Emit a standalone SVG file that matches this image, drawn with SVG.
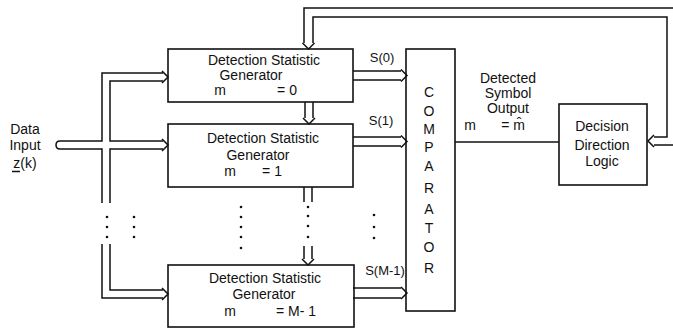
<svg xmlns="http://www.w3.org/2000/svg" width="673" height="331" viewBox="0 0 673 331">
<style>
.box{fill:none;stroke:#111;stroke-width:1.6}
.ln{fill:none;stroke:#111;stroke-width:1.5;stroke-linejoin:miter}
.t{font-family:"Liberation Sans",Arial,sans-serif;font-size:14px;fill:#111;text-anchor:middle}
.s{font-family:"Liberation Sans",Arial,sans-serif;font-size:13px;fill:#111;text-anchor:middle}
.c{font-family:"Liberation Sans",Arial,sans-serif;font-size:14px;fill:#111;text-anchor:middle}
.dot{fill:#111}
</style>
<rect width="673" height="331" fill="#fff"/>

<g id="connectors">
  <!-- input bus -->
  <path class="ln" d="M163,73 L102,73 L102,141 L60,141 Q56,141 56,145 Q56,149 60,149 L102,149 L102,203"/>
  <path class="ln" d="M163,81 L110,81 L110,141 L163,141"/>
  <path class="ln" d="M163,149 L110,149 L110,203"/>
  <path class="ln" d="M102,244 L102,298 L163,298"/>
  <path class="ln" d="M110,244 L110,290 L163,290"/>
  <path class="ln" d="M162,71 L168,77 L162,83"/>
  <path class="ln" d="M162,139 L168,145 L162,151"/>
  <path class="ln" d="M162,288 L168,294 L162,300"/>
  <!-- S outputs -->
  <path class="ln" d="M353,71 L401,71 M353,80 L401,80 M401,69.5 L407,75.5 L401,81.5"/>
  <path class="ln" d="M353,137 L401,137 M353,146 L401,146 M401,135.5 L407,141.5 L401,147.5"/>
  <path class="ln" d="M353,288 L401,288 M353,298 L401,298 M401,287 L407,293 L401,299"/>
  <!-- generator chain -->
  <path class="ln" d="M305,102 L305,118 M313,102 L313,118 M303,118 L309,124 L315,118"/>
  <path class="ln" d="M304,187 L304,202 M312,187 L312,202"/>
  <path class="ln" d="M304,246 L304,259 M312,246 L312,259 M302,259 L308,265 L314,259"/>
  <!-- feedback -->
  <path class="ln" d="M673,8 L304,8 L304,43"/>
  <path class="ln" d="M313,43 L313,17 L667,17 L667,137 L654,137"/>
  <path class="ln" d="M673,145 L654,145"/>
  <path class="ln" d="M302.5,43 L308.5,49 L314.5,43"/>
  <path class="ln" d="M654,135 L648,141 L654,147"/>
  <!-- comparator output -->
  <path class="ln" d="M455,142 L559,142"/>
  <!-- dots -->
  <g class="dot">
    <circle cx="107" cy="217" r="1.3"/><circle cx="107" cy="227" r="1.3"/><circle cx="107" cy="237" r="1.3"/>
    <circle cx="134" cy="217" r="1.3"/><circle cx="134" cy="227" r="1.3"/><circle cx="134" cy="237" r="1.3"/>
    <circle cx="241" cy="207" r="1.3"/><circle cx="241" cy="217" r="1.3"/><circle cx="241" cy="227" r="1.3"/><circle cx="241" cy="237" r="1.3"/><circle cx="241" cy="248" r="1.3"/>
    <circle cx="308" cy="207" r="1.3"/><circle cx="308" cy="216" r="1.3"/><circle cx="308" cy="226" r="1.3"/><circle cx="308" cy="237" r="1.3"/>
    <circle cx="374" cy="215" r="1.3"/><circle cx="374" cy="227" r="1.3"/><circle cx="374" cy="238" r="1.3"/>
  </g>
</g>

<g id="input-label">
  <text class="t" x="25" y="134">Data</text>
  <text class="t" x="25" y="150">Input</text>
  <text class="t" x="25" y="168">z(k)</text>
  <line class="ln" x1="12" y1="171.5" x2="20" y2="171.5" stroke-width="1.2"/>
</g>

<g id="gen0">
  <rect class="box" x="168" y="49" width="185" height="53"/>
  <text class="t" x="264" y="65">Detection  Statistic</text>
  <text class="t" x="251" y="80">Generator</text>
  <text class="t" x="220" y="95">m</text>
  <text class="t" x="287" y="95">= 0</text>
</g>

<g id="gen1">
  <rect class="box" x="168" y="124" width="185" height="63"/>
  <text class="t" x="263" y="143">Detection  Statistic</text>
  <text class="t" x="258" y="160">Generator</text>
  <text class="t" x="230" y="176">m</text>
  <text class="t" x="272" y="176">= 1</text>
</g>

<g id="gen2">
  <rect class="box" x="168" y="265" width="186" height="62"/>
  <text class="t" x="265" y="283">Detection  Statistic</text>
  <text class="t" x="264" y="299">Generator</text>
  <text class="t" x="230" y="316">m</text>
  <text class="t" x="296" y="316">= M- 1</text>
</g>

<g id="s-labels">
  <text class="s" x="382" y="62">S(0)</text>
  <text class="s" x="381" y="125">S(1)</text>
  <text class="s" x="385" y="275">S(M-1)</text>
</g>

<g id="comparator">
  <rect class="box" x="406" y="49" width="49" height="262"/>
  <text class="c" x="429" y="97">C</text>
  <text class="c" x="429" y="116">O</text>
  <text class="c" x="429" y="134">M</text>
  <text class="c" x="429" y="152">P</text>
  <text class="c" x="429" y="171">A</text>
  <text class="c" x="429" y="193">R</text>
  <text class="c" x="429" y="214">A</text>
  <text class="c" x="429" y="233">T</text>
  <text class="c" x="429" y="252">O</text>
  <text class="c" x="429" y="273">R</text>
</g>

<g id="output-label">
  <text class="t" x="508" y="83">Detected</text>
  <text class="t" x="508" y="98">Symbol</text>
  <text class="t" x="508" y="113">Output</text>
  <text class="t" x="470" y="130">m</text>
  <text class="t" x="513" y="130">= m̂</text>
</g>

<g id="decision">
  <rect class="box" x="559" y="104" width="88" height="81"/>
  <text class="t" x="602" y="131">Decision</text>
  <text class="t" x="602" y="150">Direction</text>
  <text class="t" x="602" y="166">Logic</text>
</g>
</svg>
